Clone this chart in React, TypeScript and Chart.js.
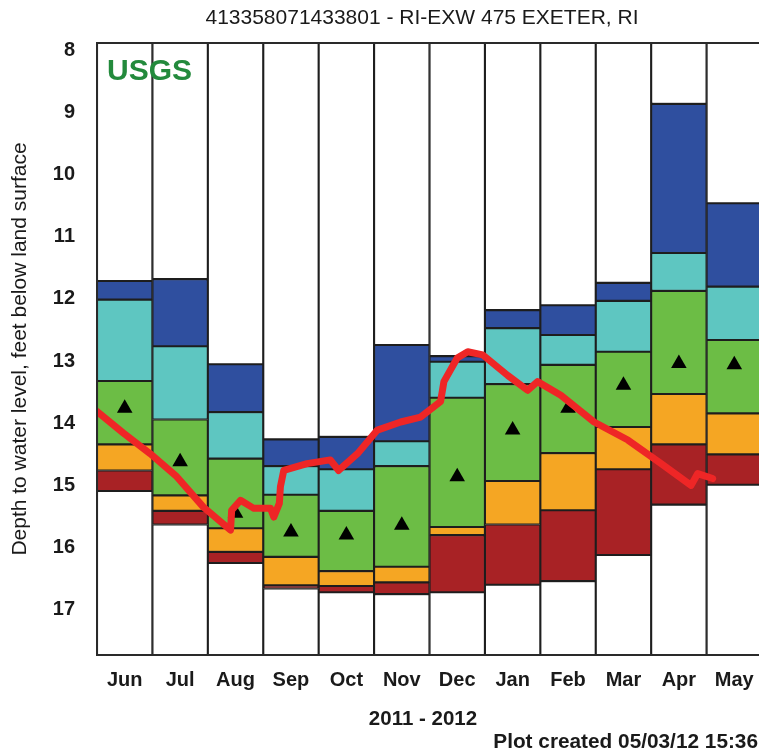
import React, { useEffect, useRef } from 'react';
import { Chart, registerables } from 'chart.js';

Chart.register(...registerables);

const FONT = '"Liberation Sans", Arial, Helvetica, sans-serif';

const TITLE = '413358071433801 - RI-EXW 475 EXETER, RI';
const X_TITLE = '2011 - 2012';
const FOOTER = 'Plot created 05/03/12 15:36';
const Y_TITLE = 'Depth to water level, feet below land surface';

const months = ['Jun', 'Jul', 'Aug', 'Sep', 'Oct', 'Nov', 'Dec', 'Jan', 'Feb', 'Mar', 'Apr', 'May'];

// Percentile class boundaries (feet below land surface)
const recordTop = [11.71, 11.68, 13.05, 14.26, 14.22, 12.74, 12.92, 12.18, 12.10, 11.74, 8.86, 10.46];
const p90 = [12.01, 12.76, 13.82, 14.69, 14.74, 14.29, 13.01, 12.47, 12.58, 12.03, 11.26, 11.80];
const p75 = [13.32, 13.94, 14.57, 15.15, 15.41, 14.69, 13.59, 13.37, 13.06, 12.85, 11.87, 12.66];
const p25 = [14.34, 15.16, 15.69, 16.15, 16.38, 16.31, 15.67, 14.93, 14.48, 14.06, 13.53, 13.84];
const p10 = [14.76, 15.41, 16.07, 16.61, 16.62, 16.56, 15.80, 15.63, 15.40, 14.74, 14.34, 14.50];
const recordBottom = [15.09, 15.63, 16.25, 16.66, 16.72, 16.75, 16.72, 16.60, 16.54, 16.12, 15.31, 14.99];
const medians = [13.76, 14.62, 15.45, 15.75, 15.80, 15.64, 14.86, 14.11, 13.76, 13.39, 13.04, 13.06];

// Daily water level (x = months since Jun 1, y = depth)
const levelX = [0, 0.48, 0.96, 1.44, 1.92, 2.41, 2.43, 2.59, 2.83, 3.13, 3.19, 3.29, 3.31, 3.37, 3.79, 4.21, 4.36, 4.70, 5.06, 5.48, 5.84, 6.20, 6.26, 6.50, 6.69, 6.96, 7.41, 7.77, 7.95, 8.37, 8.97, 9.58, 10.18, 10.72, 10.84, 11.11];
const levelY = [13.81, 14.16, 14.49, 14.86, 15.35, 15.72, 15.40, 15.24, 15.37, 15.37, 15.51, 15.29, 15.02, 14.76, 14.65, 14.59, 14.76, 14.49, 14.11, 13.98, 13.90, 13.65, 13.33, 12.95, 12.85, 12.90, 13.23, 13.47, 13.33, 13.55, 13.98, 14.27, 14.65, 15.00, 14.81, 14.89];

const yTicks = [8, 9, 10, 11, 12, 13, 14, 15, 16, 17];
const Y_MIN = 7.88;
const Y_MAX = 17.73;

const COLORS = {
  white: '#ffffff',
  blue: '#2f4f9f',
  cyan: '#5ec6c1',
  green: '#6cbd45',
  orange: '#f5a623',
  red: '#a82225',
  line: '#ee2626',
  border: '#1e1e1e',
  text: '#1a1a1a',
  usgs: '#238a3c',
};

function band(label: string, lo: number[], hi: number[], color: string, order: number) {
  return {
    type: 'bar' as const,
    label,
    data: lo.map((v, i) => [v, hi[i]]),
    backgroundColor: color,
    borderColor: COLORS.border,
    borderWidth: 1.4,
    borderSkipped: false,
    grouped: false,
    barPercentage: 1,
    categoryPercentage: 1,
    xAxisID: 'x',
    yAxisID: 'y',
    order,
  };
}

const textPlugin = {
  id: 'extraTexts',
  afterDraw(chart: any) {
    const ctx = chart.ctx;
    const a = chart.chartArea;
    ctx.save();
    ctx.strokeStyle = '#2a2a2a';
    ctx.lineWidth = 2;
    ctx.strokeRect(a.left, a.top, a.right - a.left, a.bottom - a.top);

    ctx.fillStyle = COLORS.text;
    ctx.textAlign = 'center';
    ctx.textBaseline = 'middle';
    ctx.font = `21px ${FONT}`;
    ctx.fillText(TITLE, 422, 18);

    ctx.font = `bold 20.5px ${FONT}`;
    ctx.fillText(X_TITLE, 423, 719);

    ctx.textAlign = 'right';
    ctx.font = `bold 20.8px ${FONT}`;
    ctx.fillText(FOOTER, 758, 742);

    ctx.textAlign = 'left';
    ctx.textBaseline = 'alphabetic';
    ctx.fillStyle = COLORS.usgs;
    ctx.font = `bold 30px ${FONT}`;
    ctx.fillText('USGS', 107, 80);
    ctx.restore();
  },
};

export default function App() {
  const ref = useRef<HTMLCanvasElement>(null);

  useEffect(() => {
    const datasets: any[] = [
      {
        type: 'line',
        label: 'Daily water level',
        data: levelX.map((x, i) => ({ x, y: levelY[i] })),
        xAxisID: 'xl',
        yAxisID: 'y',
        borderColor: COLORS.line,
        backgroundColor: COLORS.line,
        borderWidth: 7,
        borderJoinStyle: 'round',
        borderCapStyle: 'round',
        pointRadius: 0,
        tension: 0,
        fill: false,
        order: 0,
      },
      {
        type: 'line',
        label: 'Median',
        data: medians,
        xAxisID: 'x',
        yAxisID: 'y',
        showLine: false,
        pointStyle: 'triangle',
        pointRadius: 9,
        pointBackgroundColor: '#000000',
        pointBorderColor: '#000000',
        pointBorderWidth: 0,
        order: 1,
      },
      band('Above record', recordTop.map(() => Y_MIN), recordTop, COLORS.white, 2),
      band('>90', recordTop, p90, COLORS.blue, 3),
      band('76-90', p90, p75, COLORS.cyan, 4),
      band('25-75', p75, p25, COLORS.green, 5),
      band('10-24', p25, p10, COLORS.orange, 6),
      band('<10', p10, recordBottom, COLORS.red, 7),
      band('Below record', recordBottom, recordBottom.map(() => Y_MAX), COLORS.white, 8),
    ];

    const chart = new Chart(ref.current as HTMLCanvasElement, {
      type: 'bar',
      data: { labels: months, datasets },
      options: {
        responsive: false,
        animation: false,
        devicePixelRatio: 1,
        layout: { padding: { top: 43, right: 13, bottom: 0, left: 0 } },
        plugins: {
          legend: { display: false },
          tooltip: { enabled: false },
          title: { display: false },
        },
        scales: {
          x: {
            type: 'category',
            offset: true,
            grid: { display: false, drawTicks: false },
            border: { display: false },
            ticks: {
              color: COLORS.text,
              font: { family: FONT, size: 20, weight: 'bold' },
              padding: 13,
              maxRotation: 0,
              autoSkip: false,
            },
            afterFit(scale: any) {
              scale.height = 99;
            },
          },
          xl: {
            type: 'linear',
            display: false,
            min: 0,
            max: 12,
            offset: false,
          },
          y: {
            type: 'linear',
            reverse: true,
            min: Y_MIN,
            max: Y_MAX,
            grid: { display: false, drawTicks: false },
            border: { display: false },
            afterBuildTicks(scale: any) {
              scale.ticks = yTicks.map((v) => ({ value: v }));
            },
            ticks: {
              color: COLORS.text,
              font: { family: FONT, size: 20, weight: 'bold' },
              padding: 22,
              callback: (v: any) => String(v),
            },
            title: {
              display: true,
              text: Y_TITLE,
              color: COLORS.text,
              font: { family: FONT, size: 21, weight: 'normal' },
              padding: { top: 8, bottom: 0 },
            },
            afterFit(scale: any) {
              scale.width = 97;
            },
          },
        },
      } as any,
      plugins: [textPlugin],
    });
    return () => chart.destroy();
  }, []);

  return (
    <div
      style={{
        position: 'absolute',
        left: 0,
        top: 0,
        width: 759,
        height: 754,
        overflow: 'hidden',
        background: '#ffffff',
      }}
    >
      <canvas ref={ref} width={775} height={754} style={{ display: 'block', width: 775, height: 754 }} />
    </div>
  );
}
